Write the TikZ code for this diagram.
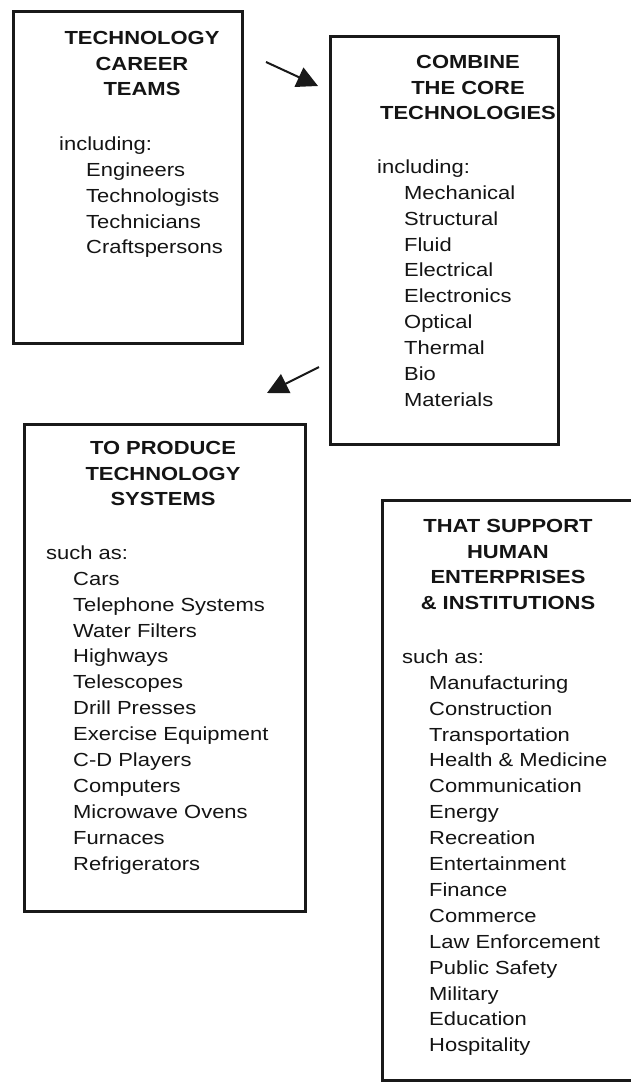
\documentclass[tikz,border=0pt]{standalone}
\usepackage{fontspec}
\setmainfont{Liberation Sans}[FakeStretch=1.16]
\usetikzlibrary{arrows.meta,positioning}

\newcommand{\ind}{\hspace*{27bp}}

\begin{document}
\begin{tikzpicture}[x=1bp,y=-1bp,
  panel/.style={draw=black!90,line width=2.6bp,anchor=north west,inner sep=0pt},
  head/.style={anchor=north,align=center,inner sep=0pt,text=black!92,
    font=\bfseries\fontsize{19}{25.5}\selectfont},
  body/.style={anchor=north west,align=left,inner sep=0pt,text=black!92,
    font=\fontsize{19}{26}\selectfont},
  flow/.style={-{Triangle[length=21bp,width=21bp]},line width=2bp,black!90}]

  \clip (0,0) rectangle (631,1084);
  \fill[white] (0,0) rectangle (631,1084);

  % the four boxes
  \node[panel,minimum width=229bp,minimum height=332bp] (teams)   at (12,10)  {};
  \node[panel,minimum width=228bp,minimum height=408bp] (core)    at (329,35) {};
  \node[panel,minimum width=281bp,minimum height=487bp] (systems) at (23,423) {};
  \node[panel,minimum width=270bp,minimum height=580bp] (support) at (381,499) {};

  % headings
  \node[head] (teamshead)   at (142,31.4)  {TECHNOLOGY\\CAREER\\TEAMS};
  \node[head] (corehead)    at (468,55.4)  {COMBINE\\THE CORE\\TECHNOLOGIES};
  \node[head] (systemshead) at (163,441.4) {TO PRODUCE\\TECHNOLOGY\\SYSTEMS};
  \node[head] (supporthead) at (508,519.4) {THAT SUPPORT\\HUMAN\\ENTERPRISES\\\& INSTITUTIONS};

  % lists
  \node[body] (teamslist) at (59,136.4) {including:\\\ind Engineers\\\ind Technologists\\
    \ind Technicians\\\ind Craftspersons};
  \node[body] (corelist) at (377,159.4) {including:\\\ind Mechanical\\\ind Structural\\
    \ind Fluid\\\ind Electrical\\\ind Electronics\\\ind Optical\\\ind Thermal\\
    \ind Bio\\\ind Materials};
  \node[body] (systemslist) at (46,545.4) {such as:\\\ind Cars\\\ind Telephone Systems\\
    \ind Water Filters\\\ind Highways\\\ind Telescopes\\\ind Drill Presses\\
    \ind Exercise Equipment\\\ind C-D Players\\\ind Computers\\
    \ind Microwave Ovens\\\ind Furnaces\\\ind Refrigerators};
  \node[body] (supportlist) at (402,649.4) {such as:\\\ind Manufacturing\\\ind Construction\\
    \ind Transportation\\\ind Health \& Medicine\\\ind Communication\\\ind Energy\\
    \ind Recreation\\\ind Entertainment\\\ind Finance\\\ind Commerce\\
    \ind Law Enforcement\\\ind Public Safety\\\ind Military\\\ind Education\\
    \ind Hospitality};

  % arrows between the boxes
  \coordinate (from1) at (266,62);
  \coordinate (to1)   at (318,86);
  \coordinate (from2) at (319,367);
  \coordinate (to2)   at (267,393);
  \draw[flow] (from1) -- (to1);
  \draw[flow] (from2) -- (to2);
\end{tikzpicture}
\end{document}
